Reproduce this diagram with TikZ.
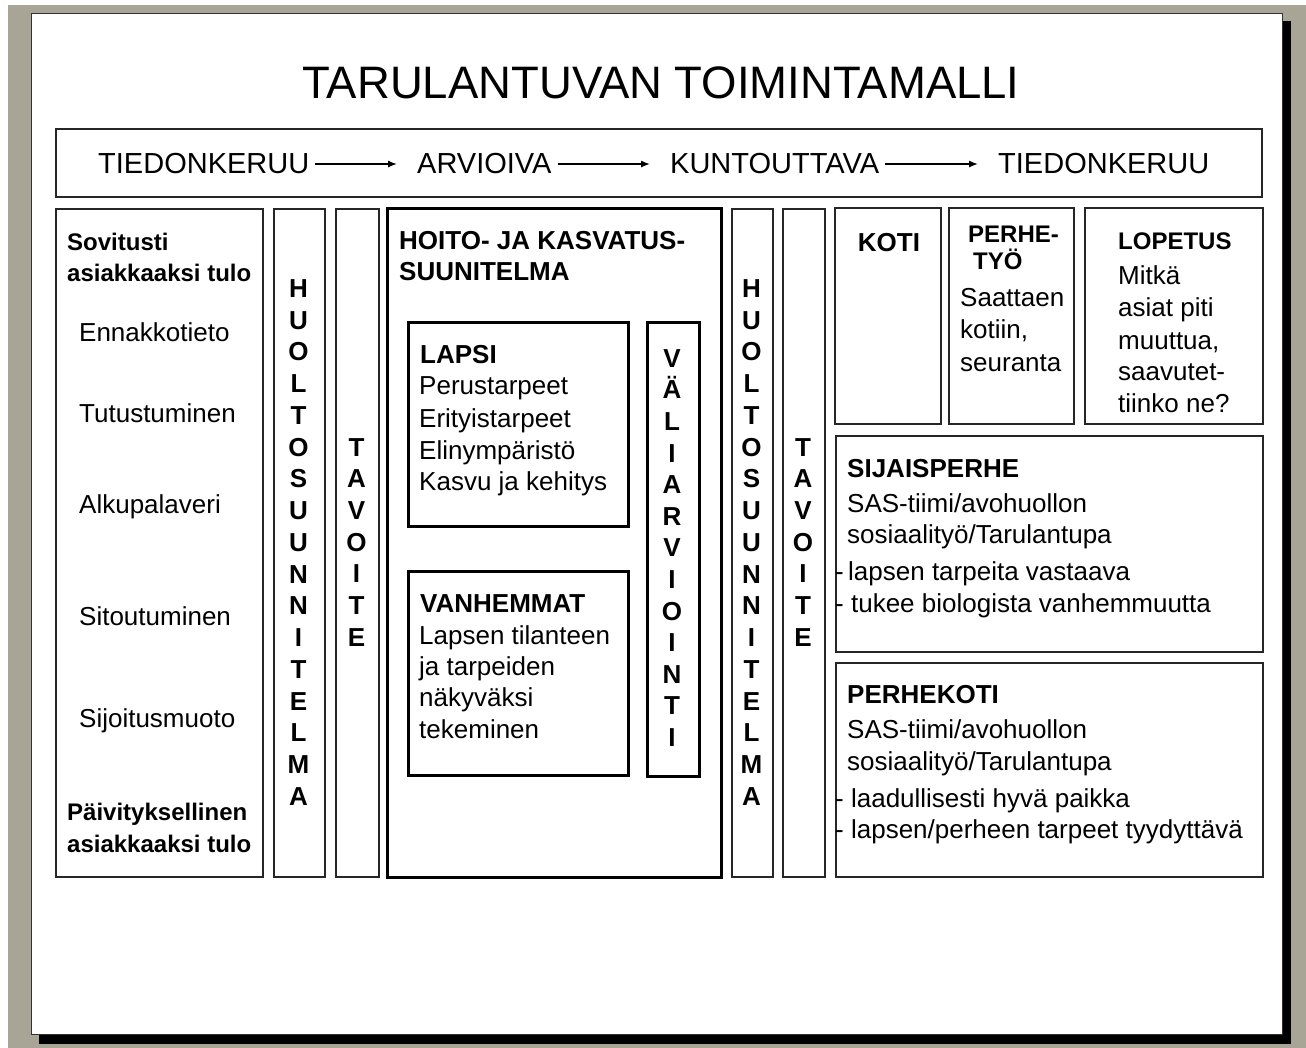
\documentclass[tikz,border=0pt]{standalone}
\usepackage{fontspec}
\setmainfont{Liberation Sans}
\usetikzlibrary{arrows.meta}
\definecolor{bggray}{RGB}{168,165,150}
\begin{document}
\begin{tikzpicture}[x=1pt,y=-1pt,
  box/.style={draw=black!85, line width=1.8pt, anchor=north west, inner sep=0pt, minimum width=#1},
  tbox/.style={draw=black, line width=3pt, anchor=north west, inner sep=0pt, minimum width=#1},
  t/.style={inner sep=0pt, anchor=base west, font=\fontsize{26}{31}\selectfont},
  hb/.style={inner sep=0pt, anchor=base west, font=\fontsize{24}{30}\selectfont\bfseries},
  hbl/.style={inner sep=0pt, anchor=base west, font=\fontsize{26}{30}\selectfont\bfseries},
  vl/.style={inner sep=0pt, anchor=base, font=\fontsize{26}{30}\selectfont\bfseries},
  proc/.style={inner sep=0pt, anchor=base west, font=\fontsize{29}{34}\selectfont},
  arr/.style={line width=1.4pt, -{Latex[length=9pt,width=7pt]}, shorten <=6pt, shorten >=20pt}
]
\useasboundingbox (0,0) rectangle (1306,1048);
\fill[white] (0,0) rectangle (1306,1048);
\fill[bggray] (8,5) rectangle (1306,1048);
\fill[black] (39,21) rectangle (1291,1044);
\node[draw=black!80, line width=1.2pt, fill=white, anchor=north west, inner sep=0pt,
      minimum width=1251pt, minimum height=1021pt] (page) at (31,13) {};

% title
\node[inner sep=0pt, anchor=base, font=\fontsize{45.5}{50}\selectfont] (title) at (661,99) {TARULANTUVAN TOIMINTAMALLI};

% process band
\node[box=1206pt, minimum height=68pt] (band) at (55,128) {};
\node[proc] (p1) at (98,174) {TIEDONKERUU};
\node[proc] (p2) at (417,174) {ARVIOIVA};
\node[proc] (p3) at (670,174) {KUNTOUTTAVA};
\node[proc] (p4) at (998,174) {TIEDONKERUU};
\draw[arr] (p1.east) -- (p2.west);
\draw[arr] (p2.east) -- (p3.west);
\draw[arr] (p3.east) -- (p4.west);

% left box
\node[box=207pt, minimum height=668pt] (lb) at (55,208) {};
\node[hb] (s1) at (67,251) {Sovitusti};
\node[hb] (s2) at (67,282) {asiakkaaksi tulo};
\node[t] (l1) at (79,342) {Ennakkotieto};
\node[t] (l2) at (79,422) {Tutustuminen};
\node[t] (l3) at (79,513) {Alkupalaveri};
\node[t] (l4) at (79,625) {Sitoutuminen};
\node[t] (l5) at (79,727) {Sijoitusmuoto};
\node[hb] (s3) at (67,820) {Päivityksellinen};
\node[hb] (s4) at (67,852) {asiakkaaksi tulo};

% vertical columns
\node[box=51pt, minimum height=668pt] (hs1box) at (273,208) {};
\node[box=43pt, minimum height=668pt] (tv1box) at (335,208) {};
\node[box=41pt, minimum height=668pt] (hs2box) at (731,208) {};
\node[box=42pt, minimum height=668pt] (tv2box) at (782,208) {};
\foreach \l [count=\i] in {H,U,O,L,T,O,S,U,U,N,N,I,T,E,L,M,A} {
  \node[vl] (hsa\i) at (298.5,{297.3+(\i-1)*31.75}) {\l};
  \node[vl] (hsb\i) at (751.5,{297.3+(\i-1)*31.75}) {\l};
}
\foreach \l [count=\i] in {T,A,V,O,I,T,E} {
  \node[vl] (tva\i) at (356.5,{456.3+(\i-1)*31.67}) {\l};
  \node[vl] (tvb\i) at (803,{456.3+(\i-1)*31.67}) {\l};
}

% hoito box
\node[tbox=334pt, minimum height=669pt] (hk) at (386,207) {};
\node[hbl] (hk1) at (399,250) {HOITO- JA KASVATUS-};
\node[hbl] (hk2) at (399,281) {SUUNITELMA};

\node[tbox=220pt, minimum height=204pt] (lapsi) at (407,321) {};
\node[hbl] (la0) at (420,363) {LAPSI};
\node[t] (la1) at (419,395) {Perustarpeet};
\node[t] (la2) at (419,427) {Erityistarpeet};
\node[t] (la3) at (419,459) {Elinympäristö};
\node[t] (la4) at (419,490) {Kasvu ja kehitys};

\node[tbox=220pt, minimum height=204pt] (vanh) at (407,570) {};
\node[hbl] (va0) at (420,612) {VANHEMMAT};
\node[t] (va1) at (419,644) {Lapsen tilanteen};
\node[t] (va2) at (419,675) {ja tarpeiden};
\node[t] (va3) at (419,706) {näkyväksi};
\node[t] (va4) at (419,738) {tekeminen};

\node[tbox=52pt, minimum height=454pt] (vali) at (646,321) {};
\foreach \l [count=\i] in {V,Ä,L,I,A,R,V,I,O,I,N,T,I} {
  \node[vl] (val\i) at (672,{367.3+(\i-1)*31.6}) {\l};
}

% right side top boxes
\node[box=106pt, minimum height=216pt] (koti) at (834,207) {};
\node[hbl, anchor=base] (ko0) at (889,252) {KOTI};
\node[box=125pt, minimum height=216pt] (perhe) at (948,207) {};
\node[hb] (pe0) at (968,243) {PERHE-};
\node[hb] (pe1) at (973,270) {TYÖ};
\node[t] (pe2) at (960,307) {Saattaen};
\node[t] (pe3) at (960,339) {kotiin,};
\node[t] (pe4) at (960,371) {seuranta};
\node[box=178pt, minimum height=216pt] (lop) at (1084,207) {};
\node[hb] (lo0) at (1118,250) {LOPETUS};
\node[t] (lo1) at (1118,285) {Mitkä};
\node[t] (lo2) at (1118,317) {asiat piti};
\node[t] (lo3) at (1118,349) {muuttua,};
\node[t] (lo4) at (1118,381) {saavutet-};
\node[t] (lo5) at (1118,412) {tiinko ne?};

% sijaisperhe
\node[box=427pt, minimum height=216pt] (sij) at (835,435) {};
\node[hbl] (si0) at (847,477) {SIJAISPERHE};
\node[t] (si1) at (847,512) {SAS-tiimi/avohuollon};
\node[t] (si2) at (847,543) {sosiaalityö/Tarulantupa};
\node[t] (si3) at (835,580) {-\,lapsen tarpeita vastaava};
\node[t] (si4) at (835,612) {- tukee biologista vanhemmuutta};

% perhekoti
\node[box=427pt, minimum height=214pt] (pk) at (835,662) {};
\node[hbl] (pk0) at (847,703) {PERHEKOTI};
\node[t] (pk1) at (847,738) {SAS-tiimi/avohuollon};
\node[t] (pk2) at (847,770) {sosiaalityö/Tarulantupa};
\node[t] (pk3) at (835,807) {- laadullisesti hyvä paikka};
\node[t] (pk4) at (835,838) {- lapsen/perheen tarpeet tyydyttävä};
\end{tikzpicture}
\end{document}
